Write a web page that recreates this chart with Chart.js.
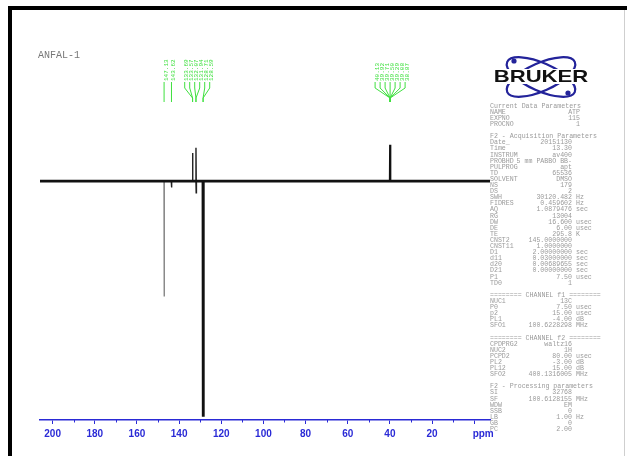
<!DOCTYPE html>
<html>
<head>
<meta charset="utf-8">
<script src="https://cdn.jsdelivr.net/npm/chart.js@4.4.1/dist/chart.umd.min.js"></script>
<style>
  html, body { margin: 0; padding: 0; background: #fff; }
  #wrap { width: 627px; height: 456px; position: relative; }
</style>
</head>
<body>
<div id="wrap"><canvas id="spec"></canvas></div>
<script>
// APT 13C spectrum, ANFAL-1

const xTicks = [200, 180, 160, 140, 120, 100, 80, 60, 40, 20, 0];
const xMinorTicks = [190, 170, 150, 130, 110, 90, 70, 50, 30, 10];

// peaks (ppm, relative intensity; tallest negative = -100)
const peakPpm    = [147.1, 143.6, 133.6, 132.0, 131.9, 128.6, 39.9];
const peakHeight = [-49,   -2.7,  12,    14.2,  -5,    -100,  15.5];
const peakKind   = ['gray', 'thin', 'thin', 'thin', 'thin', 'thick', 'mid'];

// peak pick labels
const pickLabels = ['147.13', '143.62', '133.69', '133.57', '132.07', '131.94', '128.71', '128.59',
                    '40.13', '39.92', '39.71', '39.50', '39.29', '39.08', '38.87'];
const pickPpm    = [147.13, 143.62, 133.62, 133.60, 132.02, 131.98, 128.64, 128.60,
                    39.92, 39.92, 39.91, 39.90, 39.89, 39.88, 39.87];

const paramRows = [
  ['Current Data Parameters'],
  ['NAME', 'ATP', ''],
  ['EXPNO', '115', ''],
  ['PROCNO', '1', ''],
  [],
  ['F2 - Acquisition Parameters'],
  ['Date_', '20151130'],
  ['Time', '13.30'],
  ['INSTRUM', 'av400'],
  ['PROBHD', '5 mm PABBO BB-'],
  ['PULPROG', 'apt'],
  ['TD', '65536'],
  ['SOLVENT', 'DMSO'],
  ['NS', '179'],
  ['DS', '2'],
  ['SWH', '30120.482', 'Hz'],
  ['FIDRES', '0.459602', 'Hz'],
  ['AQ', '1.0879476', 'sec'],
  ['RG', '13004'],
  ['DW', '16.600', 'usec'],
  ['DE', '6.00', 'usec'],
  ['TE', '295.8', 'K'],
  ['CNST2', '145.0000000'],
  ['CNST11', '1.0000000'],
  ['D1', '2.00000000', 'sec'],
  ['d11', '0.03000000', 'sec'],
  ['d20', '0.00689655', 'sec'],
  ['D21', '0.00000000', 'sec'],
  ['P1', '7.50', 'usec'],
  ['TD0', '1'],
  [],
  ['======== CHANNEL f1 ========'],
  ['NUC1', '13C'],
  ['P0', '7.50', 'usec'],
  ['p2', '15.00', 'usec'],
  ['PL1', '-4.00', 'dB'],
  ['SFO1', '100.6228298', 'MHz'],
  [],
  ['======== CHANNEL f2 ========'],
  ['CPDPRG2', 'waltz16'],
  ['NUC2', '1H'],
  ['PCPD2', '80.00', 'usec'],
  ['PL2', '-3.00', 'dB'],
  ['PL12', '15.00', 'dB'],
  ['SFO2', '400.1316005', 'MHz'],
  [],
  ['F2 - Processing parameters'],
  ['SI', '32768'],
  ['SF', '100.6128155', 'MHz'],
  ['WDW', 'EM'],
  ['SSB', '0'],
  ['LB', '1.00', 'Hz'],
  ['GB', '0'],
  ['PC', '2.00']
];

const BLUE = '#2a2ad6';
const GREEN = '#3fe03f';
const MONO = '"Liberation Mono", "DejaVu Sans Mono", monospace';

function peakData(kind) {
  const pts = [];
  peakPpm.forEach((p, i) => {
    if (peakKind[i] !== kind) return;
    pts.push({ x: p + 0.12, y: 0 }, { x: p, y: peakHeight[i] }, { x: p - 0.12, y: 0 }, { x: p - 0.13, y: null });
  });
  return pts;
}

// frame, title, logo, parameter table, peak labels
const decor = {
  id: 'decor',
  beforeDraw(chart) {
    const c = chart.ctx;
    c.save();
    c.fillStyle = '#fff';
    c.fillRect(0, 0, chart.width, chart.height);
    c.fillStyle = '#000';
    c.fillRect(8, 6, 619, 4);
    c.fillRect(8, 6, 4, 450);
    c.fillStyle = '#cfcfcf';
    c.fillRect(624, 10, 1, 446);
    c.restore();
  },
  afterDraw(chart) {
    const c = chart.ctx;
    const xs = chart.scales.x;
    c.save();

    // title
    c.fillStyle = '#777';
    c.font = '10px ' + MONO;
    c.textBaseline = 'middle';
    c.fillText('ANFAL-1', 38, 55);

    // minor ticks + ppm
    c.strokeStyle = BLUE;
    c.lineWidth = 1;
    const yAx = chart.chartArea.bottom;
    xMinorTicks.forEach(v => {
      const px = Math.round(xs.getPixelForValue(v)) + 0.5;
      c.beginPath(); c.moveTo(px, yAx); c.lineTo(px, yAx + 2.5); c.stroke();
    });
    c.fillStyle = BLUE;
    c.font = 'bold 10px "Liberation Sans", Arial, sans-serif';
    c.textAlign = 'center';
    c.fillText('ppm', xs.getPixelForValue(0) + 9, yAx + 14);

    // Bruker logo
    c.strokeStyle = '#23239a';
    c.lineWidth = 2.2;
    [0.42, -0.42].forEach(r => {
      c.beginPath();
      c.ellipse(541, 77, 37, 14, r, 0, Math.PI * 2);
      c.stroke();
    });
    c.fillStyle = '#23239a';
    [[514, 61], [568, 93]].forEach(([x, y]) => { c.beginPath(); c.arc(x, y, 2.6, 0, Math.PI * 2); c.fill(); });
    c.fillStyle = '#fff';
    c.fillRect(491, 69, 101, 15);
    c.fillStyle = '#111';
    c.font = 'bold 17px "Liberation Sans", Arial, sans-serif';
    c.textAlign = 'center';
    c.translate(541, 77);
    c.scale(1.3, 1);
    c.fillText('BRUKER', 0, 0);
    c.setTransform(1, 0, 0, 1, 0, 0);

    // parameter table
    c.font = '6.6px ' + MONO;
    c.fillStyle = '#9a9a9a';
    paramRows.forEach((row, i) => {
      const y = 106 + i * 6.1;
      if (!row.length) return;
      c.textAlign = 'left';
      c.fillText(row[0], 490, y);
      if (row.length > 1) {
        c.textAlign = 'right';
        c.fillText(row[1], row.length === 3 && row[2] === '' ? 580 : 572, y);
        if (row[2]) { c.textAlign = 'left'; c.fillText(row[2], 576, y); }
      }
    });

    // peak pick labels: clusters centred on their peaks, 5 px apart
    const px = pickPpm.map(p => xs.getPixelForValue(p));
    let groups = px.map((p, i) => ({ idx: [i], c: p }));
    let merged = true;
    while (merged) {
      merged = false;
      groups.sort((a, b) => a.c - b.c);
      for (let g = 0; g < groups.length - 1; g++) {
        const a = groups[g], b = groups[g + 1];
        const aR = a.c + (a.idx.length - 1) * 2.5, bL = b.c - (b.idx.length - 1) * 2.5;
        if (bL - aR < 5) {
          const idx = a.idx.concat(b.idx);
          const cen = idx.reduce((s, k) => s + px[k], 0) / idx.length;
          groups.splice(g, 2, { idx: idx, c: cen });
          merged = true;
          break;
        }
      }
    }
    c.strokeStyle = GREEN;
    c.fillStyle = GREEN;
    c.lineWidth = 1;
    c.font = '6px ' + MONO;
    groups.forEach(g => {
      const ord = g.idx.slice().sort((a, b) => px[a] - px[b]);
      ord.forEach((k, j) => {
        const lx = g.c + (j - (ord.length - 1) / 2) * 5;
        c.save();
        c.translate(lx + 2, 81);
        c.rotate(-Math.PI / 2);
        c.textAlign = 'left';
        c.fillText(pickLabels[k], 0, 0);
        c.restore();
        c.beginPath();
        c.moveTo(lx, 82); c.lineTo(lx, 88);
        c.lineTo(px[k], 98); c.lineTo(px[k], 102);
        c.stroke();
      });
    });
    c.restore();
  }
};

new Chart(document.getElementById('spec'), {
  type: 'line',
  data: {
    datasets: [
      { data: [{ x: 206, y: 0 }, { x: -7.5, y: 0 }], borderColor: '#111', borderWidth: 2.6 },
      { data: peakData('thin'), borderColor: '#222', borderWidth: 1.4 },
      { data: peakData('mid'), borderColor: '#111', borderWidth: 2 },
      { data: peakData('gray'), borderColor: '#8a8a8a', borderWidth: 1.2 },
      { data: peakData('thick'), borderColor: '#111', borderWidth: 2.6 }
    ]
  },
  options: {
    responsive: true,
    maintainAspectRatio: false,
    animation: false,
    spanGaps: false,
    elements: { point: { radius: 0 }, line: { tension: 0 } },
    layout: { padding: { left: 40, right: 137, top: 10, bottom: 12 } },
    plugins: { legend: { display: false }, tooltip: { enabled: false } },
    scales: {
      x: {
        type: 'linear',
        reverse: true,
        min: -7.5,
        max: 206,
        border: { display: true, color: BLUE, width: 1.5 },
        grid: { drawOnChartArea: false, drawTicks: true, tickLength: 4, color: BLUE, lineWidth: 1 },
        ticks: {
          color: BLUE,
          padding: 4,
          maxRotation: 0,
          autoSkip: false,
          font: { family: '"Liberation Sans", Arial, sans-serif', size: 10, weight: 'bold' },
          callback: v => (v === 0 ? '' : v)
        },
        afterBuildTicks: s => { s.ticks = xTicks.map(v => ({ value: v })); }
      },
      y: { display: false, min: -101.9, max: 73 }
    }
  },
  plugins: [decor]
});
</script>
</body>
</html>
